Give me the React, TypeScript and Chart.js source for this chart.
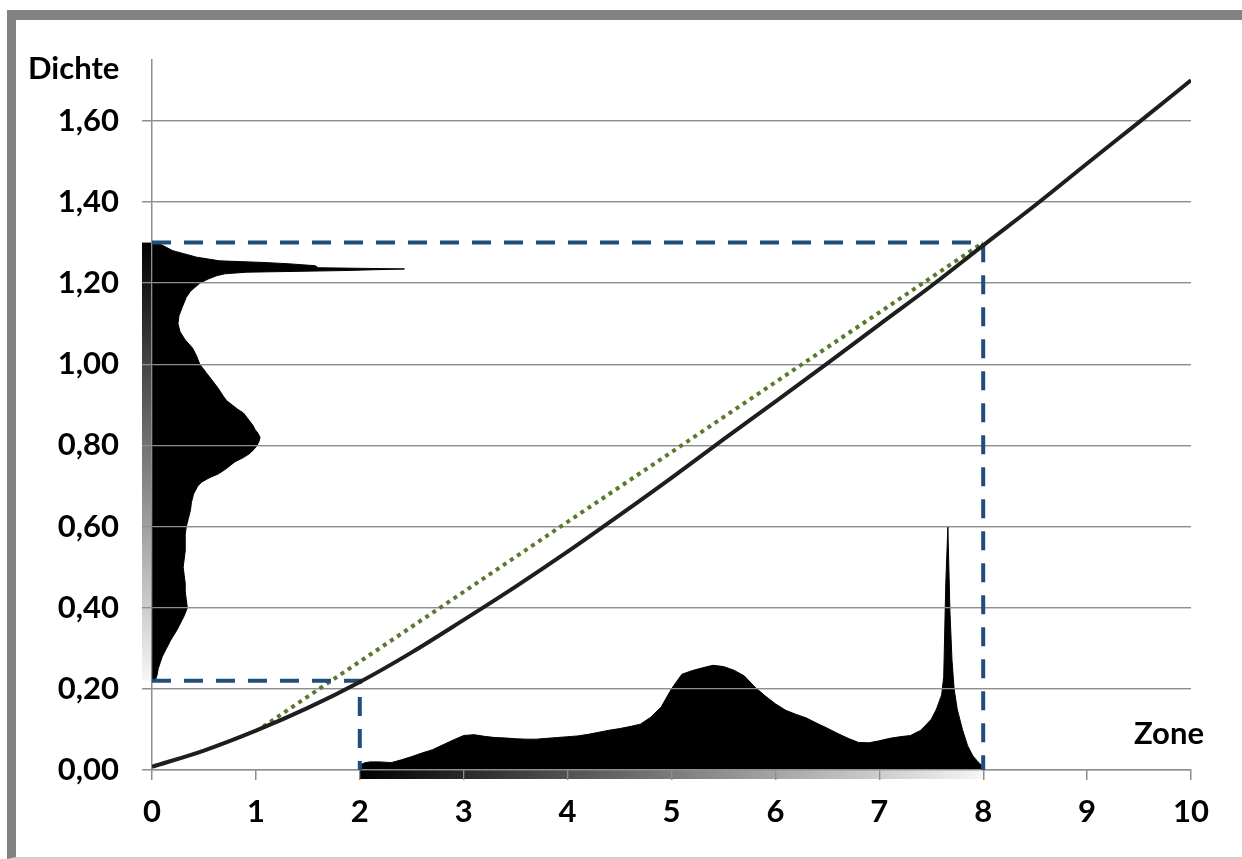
import React, { useEffect, useRef } from 'react';
import { Chart, registerables } from 'chart.js';
Chart.register(...registerables);

// Characteristic curve (Zone -> Dichte)
const curveZones = [0, 0.5, 1, 1.5, 2, 2.5, 3, 3.5, 4, 4.5, 5, 5.5, 6, 6.5, 7, 7.5, 8, 8.5, 9, 9.5, 10];
const curveDensity = [0.008, 0.048, 0.097, 0.153, 0.217, 0.29, 0.37, 0.452, 0.538, 0.628, 0.72, 0.815, 0.908, 1.002, 1.098, 1.193, 1.293, 1.392, 1.495, 1.597, 1.70];

// Straight (linear) reference line
const linearZones = [1.07, 8];
const linearDensity = [0.107, 1.3];

// Dashed helper lines
const lowRefZones = [0, 2, 2];
const lowRefDensity = [0.22, 0.22, 0];
const highRefZones = [0, 8, 8];
const highRefDensity = [1.3, 1.3, 0];

// Histogram of the subject (along Zone axis)
const zoneBins = [2.0, 2.05, 2.1, 2.2, 2.3, 2.4, 2.5, 2.6, 2.7, 2.8, 2.9, 3.0, 3.1, 3.2, 3.3, 3.4, 3.5, 3.6, 3.7, 3.8, 3.9, 4.0, 4.1, 4.2, 4.3, 4.4, 4.5, 4.6, 4.7, 4.8, 4.9, 5.0, 5.1, 5.2, 5.3, 5.4, 5.5, 5.6, 5.7, 5.8, 5.9, 6.0, 6.1, 6.2, 6.3, 6.4, 6.5, 6.6, 6.7, 6.8, 6.9, 7.0, 7.1, 7.2, 7.3, 7.4, 7.5, 7.55, 7.6, 7.62, 7.64, 7.66, 7.68, 7.7, 7.72, 7.75, 7.8, 7.85, 7.9, 7.95, 8.0];
const zoneCounts = [0.012, 0.018, 0.02, 0.02, 0.018, 0.025, 0.033, 0.042, 0.05, 0.062, 0.074, 0.085, 0.087, 0.083, 0.08, 0.079, 0.077, 0.076, 0.076, 0.078, 0.08, 0.082, 0.084, 0.088, 0.093, 0.098, 0.102, 0.107, 0.113, 0.13, 0.155, 0.2, 0.236, 0.245, 0.252, 0.258, 0.255, 0.246, 0.232, 0.205, 0.183, 0.163, 0.147, 0.137, 0.128, 0.115, 0.103, 0.09, 0.078, 0.068, 0.067, 0.072, 0.078, 0.082, 0.085, 0.098, 0.125, 0.15, 0.185, 0.23, 0.46, 0.6, 0.39, 0.27, 0.2, 0.15, 0.1, 0.06, 0.035, 0.02, 0.008];

// Histogram of the print (along Dichte axis)
const densityBins = [0.22, 0.235, 0.25, 0.265, 0.28, 0.3, 0.32, 0.345, 0.36, 0.38, 0.4, 0.42, 0.44, 0.46, 0.48, 0.5, 0.52, 0.54, 0.56, 0.58, 0.6, 0.62, 0.64, 0.66, 0.68, 0.7, 0.71, 0.72, 0.73, 0.74, 0.75, 0.76, 0.77, 0.78, 0.79, 0.8, 0.81, 0.82, 0.83, 0.84, 0.85, 0.86, 0.87, 0.88, 0.89, 0.9, 0.91, 0.92, 0.94, 0.96, 0.98, 1.0, 1.02, 1.04, 1.06, 1.08, 1.1, 1.12, 1.14, 1.165, 1.18, 1.2, 1.21, 1.218, 1.223, 1.227, 1.231, 1.235, 1.238, 1.243, 1.248, 1.251, 1.255, 1.264, 1.28, 1.296, 1.302];
const densityCounts = [0.03, 0.05, 0.06, 0.08, 0.1, 0.14, 0.18, 0.24, 0.27, 0.31, 0.34, 0.33, 0.32, 0.32, 0.31, 0.3, 0.31, 0.32, 0.32, 0.32, 0.33, 0.35, 0.37, 0.38, 0.4, 0.44, 0.48, 0.55, 0.64, 0.7, 0.75, 0.8, 0.88, 0.94, 0.98, 1.01, 1.03, 1.04, 1.02, 0.99, 0.97, 0.94, 0.91, 0.88, 0.82, 0.77, 0.72, 0.69, 0.64, 0.58, 0.52, 0.46, 0.43, 0.39, 0.32, 0.27, 0.25, 0.26, 0.29, 0.33, 0.37, 0.46, 0.54, 0.62, 0.7, 0.91, 1.84, 2.43, 1.6, 1.57, 1.3, 1.07, 0.65, 0.43, 0.2, 0.08, 0.03];

// Ranges of the grey wedges along the axes
const zoneWedge = [2, 8];
const densityWedge = [0.22, 1.3];

const xAxisTitle = 'Zone';
const yAxisTitle = 'Dichte';

const toXY = (xs: number[], ys: number[]) => xs.map((x, i) => ({ x, y: ys[i] }));

const GRID = '#8e8e8e';

const layerPlugin = {
  id: 'layers',
  beforeDatasetsDraw(chart: any) {
    const { ctx, chartArea } = chart;
    const x = chart.scales.x;
    const y = chart.scales.y;
    ctx.save();
    const x0 = x.getPixelForValue(zoneWedge[0]);
    const x1 = x.getPixelForValue(zoneWedge[1]);
    const g = ctx.createLinearGradient(x0, 0, x1, 0);
    g.addColorStop(0, '#000000');
    g.addColorStop(1, '#f6f6f6');
    ctx.fillStyle = g;
    ctx.fillRect(x0, chartArea.bottom, x1 - x0, 9);
    const yTop = y.getPixelForValue(densityWedge[1]);
    const yBot = y.getPixelForValue(densityWedge[0]);
    const g2 = ctx.createLinearGradient(0, yTop, 0, yBot);
    g2.addColorStop(0, '#000000');
    g2.addColorStop(1, '#f6f6f6');
    ctx.fillStyle = g2;
    ctx.fillRect(chartArea.left - 10, yTop, 9, yBot - yTop);
    ctx.restore();
  },
  afterDatasetDraw(chart: any, args: any) {
    const ds = chart.data.datasets[args.index];
    if (!ds || ds.label !== 'Dichte-Histogramm') return;
    const { x, y } = chart.scales;
    y.drawGrid(chart.chartArea);
    x.drawGrid(chart.chartArea);
    y.drawBorder();
    x.drawBorder();
  },
};

export default function App() {
  const ref = useRef<HTMLCanvasElement>(null);
  useEffect(() => {
    const canvas = ref.current;
    if (!canvas) return;
    const font = { family: 'Lato, "DejaVu Sans", sans-serif', size: 31, weight: 'bold' as const };
    const chart = new Chart(canvas, {
      type: 'line',
      data: {
        datasets: [
          {
            label: 'Zone-Histogramm',
            data: toXY(zoneBins, zoneCounts),
            fill: 'origin',
            backgroundColor: '#000',
            borderColor: '#000',
            borderWidth: 1,
            pointRadius: 0,
            tension: 0,
            order: 5,
          },
          {
            label: 'Dichte-Histogramm',
            indexAxis: 'y',
            data: toXY(densityCounts, densityBins),
            fill: 'origin',
            backgroundColor: '#000',
            borderColor: '#000',
            borderWidth: 1,
            pointRadius: 0,
            tension: 0,
            order: 4,
          } as any,
          {
            label: 'Linear',
            data: toXY(linearZones, linearDensity),
            borderColor: '#587a2a',
            borderWidth: 4,
            borderDash: [4, 4.5],
            pointRadius: 0,
            fill: false,
            order: 3,
          },
          {
            label: 'Ref 2',
            data: toXY(lowRefZones, lowRefDensity),
            borderColor: '#1f4e79',
            borderWidth: 4,
            borderDash: [19, 13],
            pointRadius: 0,
            fill: false,
            clip: false,
            order: 2,
          } as any,
          {
            label: 'Ref 8',
            data: toXY(highRefZones, highRefDensity),
            borderColor: '#1f4e79',
            borderWidth: 4,
            borderDash: [19, 13],
            pointRadius: 0,
            fill: false,
            clip: false,
            order: 1,
          } as any,
          {
            label: 'Kennlinie',
            data: toXY(curveZones, curveDensity),
            borderColor: '#1e1e1e',
            borderWidth: 4,
            pointRadius: 0,
            fill: false,
            cubicInterpolationMode: 'monotone',
            order: 0,
          },
        ],
      },
      options: {
        responsive: false,
        animation: false,
        events: [],
        layout: { padding: { left: 0, right: 51, top: 60, bottom: 0 } },
        plugins: { legend: { display: false }, tooltip: { enabled: false } },
        scales: {
          x: {
            type: 'linear',
            min: 0,
            max: 10,
            afterFit: (s: any) => { s.height = 89; },
            ticks: { stepSize: 1, font, color: '#000', padding: 13, maxRotation: 0, callback: (v: any) => String(v) },
            grid: { drawOnChartArea: false, tickLength: 10, color: GRID, lineWidth: 1.3 },
            border: { color: GRID, width: 1.3 },
          },
          y: {
            type: 'linear',
            min: 0,
            max: 1.75,
            afterBuildTicks: (s: any) => { s.ticks = s.ticks.filter((t: any) => t.value <= 1.6001); },
            afterFit: (s: any) => { s.width = 152; },
            ticks: { stepSize: 0.2, font, color: '#000', padding: 23, callback: (v: any) => Number(v).toFixed(2).replace('.', ',') },
            grid: { tickLength: 10, color: GRID, lineWidth: 1.3 },
            border: { color: GRID, width: 1.3 },
          },
        },
      } as any,
      plugins: [layerPlugin],
    });
    return () => chart.destroy();
  }, []);

  const labelStyle: React.CSSProperties = {
    position: 'absolute',
    fontFamily: 'Lato, "DejaVu Sans", sans-serif',
    fontWeight: 'bold',
    fontSize: 31,
    lineHeight: '31px',
    color: '#000',
    whiteSpace: 'nowrap',
  };

  return (
    <div style={{ position: 'fixed', left: 0, top: 0, width: 1242, height: 859, background: '#fff', overflow: 'hidden' }}>
      <div
        style={{
          position: 'absolute',
          left: 7,
          top: 10,
          width: 1260,
          height: 849,
          boxSizing: 'border-box',
          borderTop: '10px solid #828282',
          borderLeft: '9px solid #828282',
          borderBottom: '2px solid #cfcfcf',
        }}
      />
      <canvas ref={ref} width={1242} height={859} style={{ position: 'absolute', left: 0, top: 0, width: 1242, height: 859 }} />
      <div style={{ ...labelStyle, left: 28, top: 52 }}>{yAxisTitle}</div>
      <div style={{ ...labelStyle, left: 1134, top: 717 }}>{xAxisTitle}</div>
    </div>
  );
}
